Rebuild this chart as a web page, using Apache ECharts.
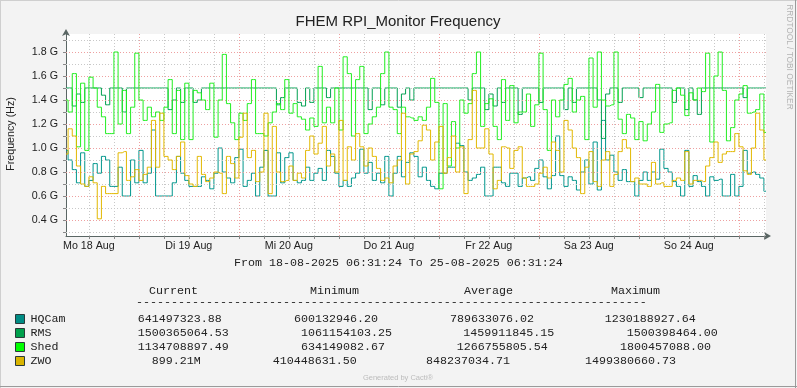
<!DOCTYPE html>
<html><head><meta charset="utf-8">
<script src="https://cdn.jsdelivr.net/npm/echarts@6/dist/echarts.min.js"></script>
<style>html,body{margin:0;padding:0;background:#f3f3f3}#c{width:797px;height:388px}</style>
</head><body><div id="c"></div>
<script>
// ---- data (values in GHz, hourly samples from 18-08-2025 06:31:24) ----
const hourOffsets = [];
for (let h = 0; h <= 168; h++) hourOffsets.push(h);

const hqcam = [0.98,0.90,0.82,0.71,0.96,0.68,0.73,0.87,0.79,0.93,0.90,0.68,0.68,0.84,0.60,0.60,0.90,0.71,0.98,0.71,0.79,1.15,0.60,0.60,0.60,0.60,0.71,0.93,0.79,
0.73,0.68,0.68,0.68,0.76,0.73,0.66,0.79,1.00,0.80,0.75,0.71,0.92,0.99,0.68,0.73,0.79,0.60,0.84,0.98,0.60,0.60,0.96,0.71,0.92,0.96,0.73,0.71,
0.73,0.84,0.73,0.79,0.83,0.73,0.98,0.93,0.79,0.68,0.73,0.68,0.75,0.79,0.99,0.79,0.88,0.73,0.79,0.71,0.93,0.60,0.79,0.93,0.76,0.88,0.96,0.93,
0.76,0.84,0.73,0.68,0.66,0.79,0.79,0.84,0.84,1.04,1.02,0.80,0.73,0.75,0.78,0.84,0.60,0.60,0.84,0.84,0.71,0.68,0.79,0.79,0.68,0.75,0.76,0.73,
0.83,0.90,0.76,0.66,0.77,1.10,0.77,0.68,0.76,0.73,0.65,0.80,0.90,0.70,1.05,0.65,1.23,0.90,0.94,0.80,0.73,0.82,0.72,0.72,0.60,0.73,0.80,0.73,
0.80,0.74,0.99,0.83,0.80,0.72,0.68,0.60,0.98,0.68,0.77,0.72,0.68,0.60,0.76,0.73,0.74,0.60,0.60,0.78,0.60,0.68,0.98,0.79,0.80,0.78,0.75,0.64];

const rms = [1.50,1.50,1.35,1.45,1.38,1.50,1.50,1.50,1.50,1.44,1.36,1.50,1.50,1.50,1.30,1.50,1.50,1.50,1.50,1.50,1.50,1.50,1.50,1.50,1.50,1.32,1.40,1.50,1.38,
1.50,1.50,1.38,1.40,1.50,1.50,1.50,1.50,1.50,1.50,1.50,1.50,1.50,1.50,1.50,1.50,1.50,1.50,1.50,1.50,1.50,1.50,1.36,1.42,1.50,1.50,1.50,1.38,
1.35,1.50,1.38,1.50,1.50,1.50,1.42,1.50,1.50,1.50,1.50,1.50,1.50,1.50,1.50,1.50,1.32,1.50,1.50,1.36,1.50,1.50,1.50,1.34,1.45,1.50,1.40,1.50,
1.50,1.50,1.50,1.50,1.50,1.50,1.50,1.50,1.50,1.50,1.50,1.50,1.40,1.50,1.50,1.50,1.32,1.45,1.35,1.50,1.38,1.50,1.50,1.50,1.28,1.50,1.50,1.50,
1.50,1.38,1.50,1.50,1.50,1.50,1.50,1.32,1.50,1.38,1.50,1.50,1.50,1.50,1.50,1.40,1.08,1.45,1.50,1.50,1.38,1.50,1.50,1.50,1.50,1.42,1.50,1.50,
1.50,1.50,1.50,1.50,1.50,1.38,1.50,1.50,1.32,1.50,1.40,1.28,1.50,1.50,1.50,1.50,1.50,1.50,1.50,1.50,1.50,1.50,1.42,1.50,1.50,1.50,1.50,1.50];

const shed = [1.40,1.30,1.62,1.01,1.54,0.98,1.59,1.50,1.34,1.26,1.12,1.12,1.80,1.20,1.48,1.12,1.34,1.79,1.40,1.23,1.34,1.26,1.30,1.23,1.34,1.57,1.12,1.48,1.07,
1.54,1.07,1.48,1.46,1.40,1.32,1.54,1.09,1.40,1.78,1.37,1.21,1.07,1.29,1.23,1.37,1.57,1.12,1.12,1.10,1.21,1.30,1.37,1.32,1.57,1.29,1.37,1.26,
1.24,1.15,1.25,1.18,1.68,1.21,1.34,1.21,1.50,1.15,1.76,1.62,1.10,1.57,1.68,1.12,1.20,1.26,1.34,1.62,1.80,1.34,1.32,1.12,1.34,1.26,1.25,1.23,
1.26,1.23,1.34,1.58,1.38,0.66,1.37,0.85,1.22,1.00,1.40,1.29,1.37,1.62,1.80,1.18,1.37,1.41,1.18,1.07,1.57,1.23,1.52,1.21,1.30,1.30,1.45,1.18,
1.36,1.79,1.32,0.98,1.40,1.26,1.40,1.53,1.58,1.30,1.40,1.43,1.07,1.75,1.34,1.80,1.40,1.35,1.36,1.80,1.24,1.12,1.28,1.25,1.07,1.22,1.06,1.20,
1.30,1.53,1.13,1.20,1.21,1.48,1.50,1.44,1.27,1.46,1.40,1.50,1.47,1.79,1.05,1.60,1.80,1.48,1.06,1.17,1.40,1.45,1.52,1.29,1.30,1.32,1.45,1.13];

const zwo = [0.95,1.16,1.10,0.85,0.70,0.68,0.76,0.71,0.41,0.68,0.62,0.62,0.62,0.96,0.97,0.73,0.76,0.82,0.73,0.78,0.84,1.23,0.84,1.29,0.93,0.90,0.82,0.93,1.05,
0.77,0.70,0.68,0.93,0.78,0.72,0.75,0.80,0.79,0.62,0.93,0.87,0.75,1.09,1.29,0.92,0.98,0.72,0.80,1.29,0.62,1.18,0.80,0.72,0.73,0.85,0.73,0.79,
0.75,0.98,1.10,0.95,1.04,1.18,0.85,0.95,0.80,1.23,0.73,1.01,0.90,1.12,1.01,0.85,1.00,0.93,0.83,0.73,0.75,0.71,0.85,0.90,1.29,0.70,0.95,0.97,
1.06,1.19,1.15,0.90,1.05,1.18,0.79,0.92,1.10,0.80,1.01,0.62,1.07,1.48,1.00,1.00,1.16,0.95,0.66,0.73,1.01,1.00,0.83,0.98,1.01,0.75,0.68,0.68,
0.70,0.79,0.84,0.75,1.05,0.98,0.80,1.23,1.15,1.00,0.92,0.62,0.84,0.97,0.72,0.68,0.90,0.97,0.68,0.78,0.97,1.07,1.00,0.72,0.75,0.70,0.70,0.68,
0.88,0.70,0.71,0.68,0.68,0.73,0.75,0.73,0.97,0.70,0.73,0.73,0.72,0.85,0.92,1.05,0.88,0.95,0.97,0.97,1.12,1.01,0.81,0.78,1.00,1.29,1.15,0.90];

// axis labels / ticks
const dayLabels = ['Mo 18 Aug','Di 19 Aug','Mi 20 Aug','Do 21 Aug','Fr 22 Aug','Sa 23 Aug','So 24 Aug'];
const dayLabelHours = [5.4767, 29.4767, 53.4767, 77.4767, 101.4767, 125.4767, 149.4767];
const midnightHours = [17.4767, 41.4767, 65.4767, 89.4767, 113.4767, 137.4767, 161.4767];
const sixHourMinor = [5.4767,11.4767,23.4767,29.4767,35.4767,47.4767,53.4767,59.4767,71.4767,77.4767,83.4767,95.4767,101.4767,107.4767,119.4767,125.4767,131.4767,143.4767,149.4767,155.4767,167.4767];
const yLabelValues = [0.4,0.6,0.8,1.0,1.2,1.4,1.6,1.8];
const yMinorValues = [0.3,0.5,0.7,0.9,1.1,1.3,1.5,1.7,1.9];

// legend table
const seriesNames = ['HQCam','RMS','Shed','ZWO'];
const seriesColors = ['#00968C','#00A050','#22EE22','#E2B800'];
const boxColors = ['#008C84','#00A04C','#00FF00','#D9B400'];
const curVals = ['641497323.88','1500365064.53','1134708897.49','899.21M'];
const minVals = ['600132946.20','1061154103.25','634149082.67','410448631.50'];
const avgVals = ['789633076.02','1459911845.15','1266755805.54','848237034.71'];
const maxVals = ['1230188927.64','1500398464.00','1800457088.00','1499380660.73'];

// ---- chart ----
const chart = echarts.init(document.getElementById('c'), null, {renderer:'canvas'});
const mono = '11.67px "Liberation Mono", "Courier New", monospace';
const sans = '"Liberation Sans", Arial, sans-serif';

function pair(arr){ return hourOffsets.map((h,i)=>[h, arr[i]]); }

const gridLines = [];
yMinorValues.forEach(v=>gridLines.push({yAxis:v, lineStyle:{color:'#c8c8c8', type:[1,2], width:1}}));
yLabelValues.forEach(v=>gridLines.push({yAxis:v, lineStyle:{color:'#eea0a0', type:[1,2], width:1}}));
sixHourMinor.forEach(v=>gridLines.push({xAxis:v, lineStyle:{color:'#c8c8c8', type:[1,2], width:1}}));
midnightHours.forEach(v=>gridLines.push({xAxis:v, lineStyle:{color:'#eea0a0', type:[1,2], width:1}}));

const graphics = [];
// frame
graphics.push({type:'line', shape:{x1:0,y1:0.5,x2:797,y2:0.5}, style:{stroke:'#cfcfcf',lineWidth:1}, silent:true});
graphics.push({type:'line', shape:{x1:0.5,y1:0,x2:0.5,y2:388}, style:{stroke:'#cfcfcf',lineWidth:1}, silent:true});
graphics.push({type:'line', shape:{x1:0,y1:386.5,x2:797,y2:386.5}, style:{stroke:'#9a9a9a',lineWidth:1}, silent:true});
graphics.push({type:'line', shape:{x1:795.5,y1:0,x2:795.5,y2:388}, style:{stroke:'#9a9a9a',lineWidth:1}, silent:true});
// title
graphics.push({type:'text', x:398, y:22, style:{text:'FHEM RPI_Monitor Frequency', font:'15px '+sans, fill:'#222', textAlign:'center', textVerticalAlign:'middle'}});
// y axis name
graphics.push({type:'text', x:11, y:134, rotation:Math.PI/2, style:{text:'Frequency (Hz)', font:'10.7px '+sans, fill:'#222', textAlign:'center', textVerticalAlign:'middle'}});
// right watermark
graphics.push({type:'text', x:789, y:57, rotation:-Math.PI/2, style:{text:'RRDTOOL / TOBI OETIKER', font:'8.3px '+sans, fill:'#b4b4b4', textAlign:'center', textVerticalAlign:'middle'}});
// from / to
graphics.push({type:'text', x:234, y:263, style:{text:'From 18-08-2025 06:31:24 To 25-08-2025 06:31:24', font:mono, fill:'#222', textAlign:'left', textVerticalAlign:'middle'}});
// headers
[['Current',149],['Minimum',310],['Average',464],['Maximum',611]].forEach(h=>{
  graphics.push({type:'text', x:h[1], y:291, style:{text:h[0], font:mono, fill:'#222', textAlign:'left', textVerticalAlign:'middle'}});
});
graphics.push({type:'text', x:136, y:302, style:{text:'-'.repeat(73), font:mono, fill:'#222', textAlign:'left', textVerticalAlign:'middle'}});
const rowY = [319, 333, 347, 361];
const colX = [
  [137.7, 294, 450, 604.7],
  [137.7, 301, 463.3, 626.7],
  [137.7, 301, 456.7, 620],
  [151.7, 272.7, 426, 585]
];
seriesNames.forEach((n,i)=>{
  graphics.push({type:'rect', shape:{x:15.5,y:rowY[i]-4.5,width:9,height:9}, style:{fill:boxColors[i], stroke:'#2a3a3a', lineWidth:1}});
  graphics.push({type:'text', x:30.5, y:rowY[i], style:{text:n, font:mono, fill:'#222', textAlign:'left', textVerticalAlign:'middle'}});
  [curVals[i],minVals[i],avgVals[i],maxVals[i]].forEach((v,j)=>{
    graphics.push({type:'text', x:colX[i][j], y:rowY[i], style:{text:v, font:mono, fill:'#222', textAlign:'left', textVerticalAlign:'middle'}});
  });
});
graphics.push({type:'text', x:398, y:378, style:{text:'Generated by Cacti®', font:'7.5px '+sans, fill:'#bcbcbc', textAlign:'center', textVerticalAlign:'middle'}});

const lineSeries = (name, arr, color, z) => ({
  name, type:'line', data:pair(arr), showSymbol:false, symbol:'none', step:'middle',
  lineStyle:{color, width:1}, itemStyle:{color}, z, animation:false, silent:true
});

chart.setOption({
  animation:false,
  backgroundColor:'#f3f3f3',
  grid:{left:66, top:34, width:700, height:202, show:true, backgroundColor:'#ffffff', borderWidth:0},
  xAxis:{type:'value', min:0, max:168,
    axisLine:{show:true, lineStyle:{color:'#5a6664', width:1}, symbol:['none','arrow'], symbolSize:[6,7], symbolOffset:[0,5]},
    axisTick:{show:true, customValues:sixHourMinor.concat(midnightHours), length:3, lineStyle:{color:'#888'}},
    axisLabel:{show:true, customValues:dayLabelHours, margin:5, color:'#222', fontSize:10.7, fontFamily:sans,
      formatter:(v)=>{ const k = dayLabelHours.findIndex(d=>Math.abs(d-v)<0.01); return k>=0?dayLabels[k]:''; }},
    splitLine:{show:false}},
  yAxis:{type:'value', min:0.2667, max:1.95,
    axisLine:{show:true, lineStyle:{color:'#5a6664', width:1}, symbol:['none','arrow'], symbolSize:[6,7], symbolOffset:[0,5]},
    axisTick:{show:true, customValues:yMinorValues.concat(yLabelValues), length:3, lineStyle:{color:'#888'}},
    axisLabel:{show:true, customValues:yLabelValues, margin:8, color:'#222', fontSize:10.7, fontFamily:sans,
      formatter:(v)=>v.toFixed(1)+' G'},
    splitLine:{show:false}},
  graphic:graphics,
  series:[
    {type:'line', data:[[0,null]], showSymbol:false, z:1, silent:true, animation:false,
      markLine:{silent:true, symbol:'none', label:{show:false}, animation:false, data:gridLines}},
    lineSeries('HQCam', hqcam, seriesColors[0], 3),
    lineSeries('RMS', rms, seriesColors[1], 4),
    lineSeries('Shed', shed, seriesColors[2], 5),
    lineSeries('ZWO', zwo, seriesColors[3], 6)
  ]
});
</script></body></html>
